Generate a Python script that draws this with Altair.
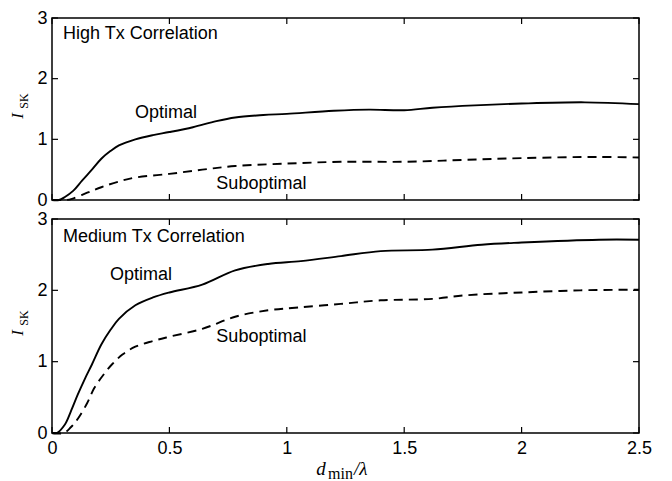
import altair as alt
import pandas as pd

# ---------------- data ----------------
x_ticks = [0, 0.5, 1, 1.5, 2, 2.5]
y_ticks = [0, 1, 2, 3]

hi_opt_x = [0.0, 0.03, 0.055, 0.09, 0.128, 0.17, 0.21, 0.25, 0.285, 0.355, 0.43, 0.5, 0.6, 0.7,
            0.78, 0.9, 1.0, 1.2, 1.35, 1.5, 1.62, 1.8, 2.0, 2.27, 2.5]
hi_opt_y = [0.0, 0.0, 0.05, 0.15, 0.32, 0.5, 0.68, 0.81, 0.9, 1.0, 1.07, 1.12, 1.2, 1.3,
            1.36, 1.4, 1.42, 1.47, 1.49, 1.48, 1.52, 1.56, 1.59, 1.61, 1.58]

hi_sub_x = [0.0, 0.06, 0.085, 0.15, 0.21, 0.28, 0.355, 0.5, 0.64, 0.78, 1.0, 1.23, 1.5, 1.75,
            2.0, 2.33, 2.5]
hi_sub_y = [0.0, 0.0, 0.02, 0.12, 0.21, 0.3, 0.37, 0.43, 0.5, 0.56, 0.6, 0.63, 0.63, 0.66,
            0.69, 0.71, 0.7]

med_opt_x = [0.0, 0.02, 0.055, 0.08, 0.11, 0.14, 0.17, 0.21, 0.25, 0.285, 0.355, 0.43, 0.5,
             0.64, 0.78, 0.92, 1.06, 1.23, 1.4, 1.62, 1.83, 2.0, 2.33, 2.5]
med_opt_y = [0.0, 0.0, 0.12, 0.3, 0.54, 0.76, 0.96, 1.24, 1.45, 1.6, 1.79, 1.9, 1.97,
             2.08, 2.28, 2.37, 2.41, 2.48, 2.55, 2.57, 2.64, 2.67, 2.71, 2.71]

med_sub_x = [0.0, 0.05, 0.08, 0.11, 0.15, 0.18, 0.22, 0.255, 0.3, 0.355, 0.43, 0.5, 0.64,
             0.78, 0.92, 1.05, 1.23, 1.4, 1.62, 1.76, 2.0, 2.25, 2.5]
med_sub_y = [0.0, 0.0, 0.08, 0.2, 0.42, 0.63, 0.82, 0.96, 1.1, 1.21, 1.29, 1.35, 1.46,
             1.63, 1.72, 1.76, 1.81, 1.86, 1.88, 1.93, 1.97, 2.0, 2.01]

hi_label_text = ["High Tx Correlation", "Optimal", "Suboptimal"]
hi_label_x = [0.047, 0.353, 0.70]
hi_label_y = [2.73, 1.44, 0.27]

med_label_text = ["Medium Tx Correlation", "Optimal", "Suboptimal"]
med_label_x = [0.047, 0.247, 0.70]
med_label_y = [2.75, 2.21, 1.35]

# ---------------- style ----------------
W = 587
H1 = 182
H2 = 214
SANS = "Liberation Sans"
SERIF = "Liberation Serif"


def panel(h, ox, oy, sx, sy, lt, lx, ly, show_x):
    xs = alt.Scale(domain=[0, 2.5], nice=False, zero=False)
    ys = alt.Scale(domain=[0, 3], nice=False)
    if show_x:
        xaxis = alt.Axis(values=x_ticks, ticks=False, domain=False, grid=False,
                         labelPadding=6, title=None, labelFontSize=18, labelFont=SANS,
                         labelColor="black", format="~g", labelFlush=False)
    else:
        xaxis = None
    yaxis = alt.Axis(values=y_ticks, ticks=False, domain=False, grid=False,
                     labelPadding=5, title=None, labelFontSize=18, labelFont=SANS,
                     labelColor="black", format="~g")
    X = alt.X("x:Q", scale=xs, axis=xaxis)
    Y = alt.Y("y:Q", scale=ys, axis=yaxis)

    opt = alt.Chart(pd.DataFrame({"x": ox, "y": oy})).mark_line(
        color="black", strokeWidth=1.9, interpolate="catmull-rom").encode(x=X, y=Y)
    sub = alt.Chart(pd.DataFrame({"x": sx, "y": sy})).mark_line(
        color="black", strokeWidth=1.9, strokeDash=[9, 6], interpolate="catmull-rom"
    ).encode(x=X, y=Y)

    labels = alt.Chart(pd.DataFrame({"x": lx, "y": ly, "t": lt})).mark_text(
        align="left", baseline="middle", font=SANS, fontSize=18, color="black"
    ).encode(x=X, y=Y, text="t:N")

    xt = pd.DataFrame({"x": x_ticks})
    yt = pd.DataFrame({"y": y_ticks})
    tb = alt.Chart(xt).mark_rule(color="black", strokeWidth=1.2).encode(
        x=X, y=alt.value(h), y2=alt.value(h - 6))
    tt = alt.Chart(xt).mark_rule(color="black", strokeWidth=1.2).encode(
        x=X, y=alt.value(0), y2=alt.value(6))
    tl = alt.Chart(yt).mark_rule(color="black", strokeWidth=1.2).encode(
        y=Y, x=alt.value(0), x2=alt.value(6))
    tr = alt.Chart(yt).mark_rule(color="black", strokeWidth=1.2).encode(
        y=Y, x=alt.value(W), x2=alt.value(W - 6))

    ti = alt.Chart(pd.DataFrame({"t": ["I"]})).mark_text(
        font=SERIF, fontStyle="italic", fontSize=17, angle=270, align="center",
        baseline="alphabetic", color="black"
    ).encode(text="t:N", x=alt.value(-29), y=alt.value(h / 2 + 7))
    tsk = alt.Chart(pd.DataFrame({"t": ["SK"]})).mark_text(
        font=SERIF, fontSize=12, angle=270, align="center", baseline="alphabetic",
        color="black"
    ).encode(text="t:N", x=alt.value(-24), y=alt.value(h / 2 - 8))

    layers = [opt, sub, labels, tb, tt, tl, tr, ti, tsk]
    if show_x:
        td = alt.Chart(pd.DataFrame({"t": ["d"]})).mark_text(
            font=SERIF, fontStyle="italic", fontSize=19, align="center",
            baseline="alphabetic", color="black"
        ).encode(text="t:N", x=alt.value(269), y=alt.value(h + 42))
        tm = alt.Chart(pd.DataFrame({"t": ["min"]})).mark_text(
            font=SERIF, fontSize=16, align="left", baseline="alphabetic", color="black"
        ).encode(text="t:N", x=alt.value(276), y=alt.value(h + 46))
        tl2 = alt.Chart(pd.DataFrame({"t": ["/λ"]})).mark_text(
            font=SERIF, fontStyle="italic", fontSize=19, align="left",
            baseline="alphabetic", color="black"
        ).encode(text="t:N", x=alt.value(302), y=alt.value(h + 42))
        layers += [td, tm, tl2]
    return alt.layer(*layers).properties(width=W, height=h)


top = panel(H1, hi_opt_x, hi_opt_y, hi_sub_x, hi_sub_y,
            hi_label_text, hi_label_x, hi_label_y, False)
bot = panel(H2, med_opt_x, med_opt_y, med_sub_x, med_sub_y,
            med_label_text, med_label_x, med_label_y, True)

chart = alt.vconcat(top, bot, spacing=19, bounds="flush").properties(
    padding={"left": 0, "top": 0, "right": 5, "bottom": 0},
    background="white",
).configure_view(stroke="black", strokeWidth=1.5)

chart.save("out.html", embed_options={"renderer": "svg", "actions": False})
